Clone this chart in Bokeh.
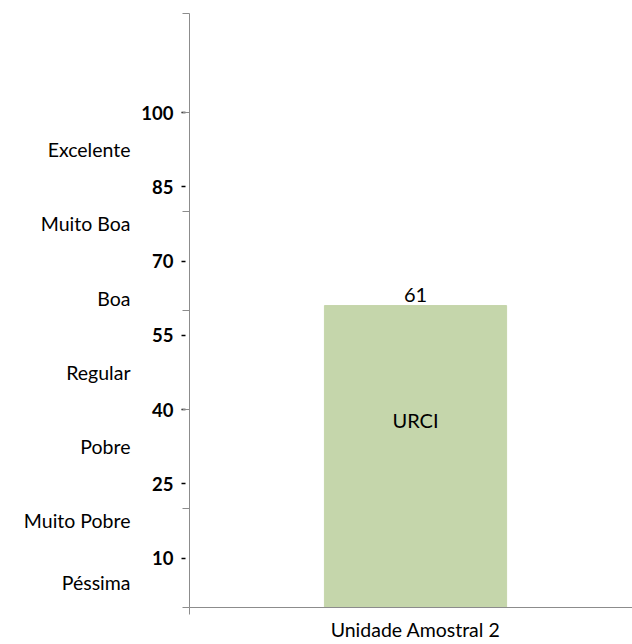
from bokeh.plotting import figure
from bokeh.models import Range1d, LinearAxis, FixedTicker
from bokeh.core.properties import value
from bokeh.embed import file_html
from bokeh.resources import INLINE

# ---- data ----
categories = ["Unidade Amostral 2"]
values = [61]
series_name = "URCI"
class_bounds = [0, 10, 25, 40, 55, 70, 85, 100]
class_names = ["Péssima", "Muito Pobre", "Pobre", "Regular", "Boa", "Muito Boa", "Excelente"]
axis_ticks = [0, 20, 40, 60, 80, 100, 120]

FONT = "Lato"
BAR = "#c5d6ab"
GREY = "#8c8c8c"
TXT = "#000000"

x_idx = list(range(len(categories)))
mids = [(a + b) / 2 for a, b in zip(class_bounds[:-1], class_bounds[1:])]

p = figure(width=632, height=644, output_backend="svg", toolbar_location=None,
           x_range=Range1d(-0.5, 0.48), y_range=Range1d(0, 120),
           min_border_left=189, min_border_right=0, min_border_top=13, min_border_bottom=37)
p.grid.visible = False
p.outline_line_color = None
p.background_fill_color = "white"
p.border_fill_color = "white"

p.vbar(x=x_idx, top=values, width=0.403, fill_color=BAR, line_color=BAR)

p.text(x=x_idx, y=values, text=[str(v) for v in values], y_offset=-4,
       text_align="center", text_baseline="bottom", text_font=value(FONT),
       text_font_size="20px", text_color=TXT)
p.text(x=x_idx, y=[v * 0.62 for v in values], text=[series_name] * len(values),
       text_align="center", text_baseline="middle", text_font=value(FONT),
       text_font_size="20px", text_color=TXT)

# inner y axis: line, grid ticks, bold class bounds
yax = p.yaxis[0]
yax.ticker = FixedTicker(ticks=class_bounds[1:], minor_ticks=axis_ticks)
yax.axis_line_color = GREY
yax.axis_line_width = 1
yax.major_tick_in = -4
yax.major_tick_out = 8
yax.major_tick_line_color = TXT
yax.major_tick_line_width = 1.5
yax.minor_tick_in = 0
yax.minor_tick_out = 7
yax.minor_tick_line_color = GREY
yax.major_label_standoff = 8
yax.major_label_text_font = FONT
yax.major_label_text_font_style = "bold"
yax.major_label_text_font_size = "18.5px"
yax.major_label_text_color = TXT

# outer axis: class names
cax = LinearAxis(ticker=FixedTicker(ticks=mids, minor_ticks=[]),
                 major_label_overrides={m: n for m, n in zip(mids, class_names)})
cax.axis_line_color = None
cax.major_tick_line_color = None
cax.minor_tick_line_color = None
cax.major_tick_in = 0
cax.major_tick_out = 0
cax.major_label_standoff = 8
cax.major_label_text_font = FONT
cax.major_label_text_font_size = "19.5px"
cax.major_label_text_color = TXT
p.add_layout(cax, "left")

# x axis
xax = p.xaxis[0]
xax.ticker = FixedTicker(ticks=x_idx, minor_ticks=[-0.5])
xax.major_label_overrides = {i: c for i, c in zip(x_idx, categories)}
xax.axis_line_color = GREY
xax.major_tick_in = 0
xax.major_tick_out = 0
xax.minor_tick_in = 0
xax.minor_tick_out = 7
xax.minor_tick_line_color = GREY
xax.major_label_standoff = 3
xax.major_label_text_font = FONT
xax.major_label_text_font_size = "19.5px"
xax.major_label_text_color = TXT

open("out.html", "w").write(file_html(p, INLINE))
